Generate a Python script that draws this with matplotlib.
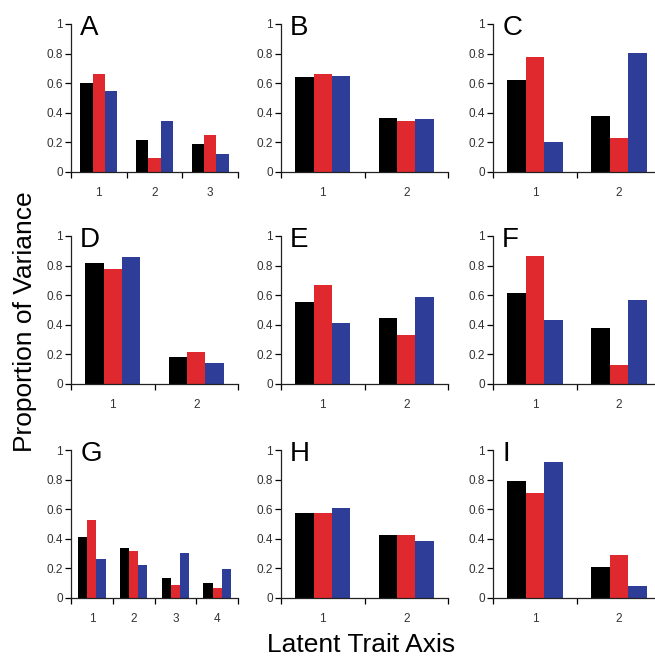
import matplotlib
matplotlib.use('Agg')
import matplotlib.pyplot as plt
import numpy as np

# Colours of the three series (black / red / blue)
SERIES_COLORS = ['#000000', '#e0292e', '#2e3d98']

plt.rcParams['font.family'] = ['Liberation Sans', 'DejaVu Sans']

# Data: one list per panel, each entry is one latent trait axis with 3 series values
panel_labels = ['A', 'B', 'C', 'D', 'E', 'F', 'G', 'H', 'I']

A = [[0.60, 0.665, 0.548], [0.218, 0.096, 0.344], [0.187, 0.252, 0.122]]
B = [[0.645, 0.665, 0.652], [0.364, 0.344, 0.357]]
C = [[0.62, 0.775, 0.20], [0.38, 0.227, 0.802]]
D = [[0.815, 0.775, 0.856], [0.18, 0.218, 0.14]]
E = [[0.556, 0.667, 0.41], [0.444, 0.331, 0.588]]
F = [[0.617, 0.867, 0.43], [0.38, 0.126, 0.57]]
G = [[0.413, 0.526, 0.262], [0.339, 0.32, 0.223], [0.135, 0.086, 0.305], [0.104, 0.068, 0.199]]
H = [[0.571, 0.571, 0.609], [0.424, 0.424, 0.388]]
I = [[0.79, 0.707, 0.916], [0.208, 0.289, 0.081]]

panel_data = [A, B, C, D, E, F, G, H, I]

y_ticks = [0, 0.2, 0.4, 0.6, 0.8, 1]
y_tick_labels = ['0', '0.2', '0.4', '0.6', '0.8', '1']

# Layout in pixels of the 655x658 figure
FIG_W, FIG_H = 655, 658
col_left = [71, 281, 493]
col_width = [167, 167, 168]
row_top = [24, 236, 450]
row_height = 148


def draw_panel(ax, data, letter):
    data = np.array(data)
    n = data.shape[0]
    x = np.arange(1, n + 1)
    bar_w = 0.22
    for s in range(3):
        ax.bar(x + (s - 1) * bar_w, data[:, s], width=bar_w,
               color=SERIES_COLORS[s], linewidth=0)

    ax.set_xlim(0.5, n + 0.5)
    ax.set_ylim(0, 1)

    # y axis
    ax.set_yticks(y_ticks)
    ax.set_yticklabels(y_tick_labels)
    ax.tick_params(axis='y', direction='out', length=4, width=0.9,
                   labelsize=8.5, labelcolor='#333333', pad=2)

    # x axis: tick marks between categories, labels in the middle
    ax.set_xticks(np.arange(0.5, n + 1, 1.0))
    ax.set_xticklabels([])
    ax.set_xticks(x, minor=True)
    ax.set_xticklabels([str(i) for i in x], minor=True)
    ax.tick_params(axis='x', which='major', direction='out', length=4, width=0.9)
    ax.tick_params(axis='x', which='minor', length=0, pad=11,
                   labelsize=8.5, labelcolor='#333333')

    for side in ['top', 'right']:
        ax.spines[side].set_visible(False)
    for side in ['left', 'bottom']:
        ax.spines[side].set_linewidth(0.9)
        ax.spines[side].set_color('#222222')

    ax.text(0.055, 0.926, letter, transform=ax.transAxes, fontsize=20,
            ha='left', va='baseline', color='black')


fig = plt.figure(figsize=(FIG_W / 100, FIG_H / 100), dpi=100)

for i, (data, letter) in enumerate(zip(panel_data, panel_labels)):
    r, c = divmod(i, 3)
    left = col_left[c] / FIG_W
    bottom = 1 - (row_top[r] + row_height) / FIG_H
    ax = fig.add_axes([left, bottom, col_width[c] / FIG_W, row_height / FIG_H])
    ax.set_facecolor('none')
    draw_panel(ax, data, letter)

fig.text(25 / FIG_W, 1 - 322 / FIG_H, 'Proportion of Variance', rotation=90,
         fontsize=19, ha='center', va='center')
fig.text(361 / FIG_W, 1 - 652 / FIG_H, 'Latent Trait Axis',
         fontsize=19, ha='center', va='baseline')

fig.savefig('out.png', dpi=100)
